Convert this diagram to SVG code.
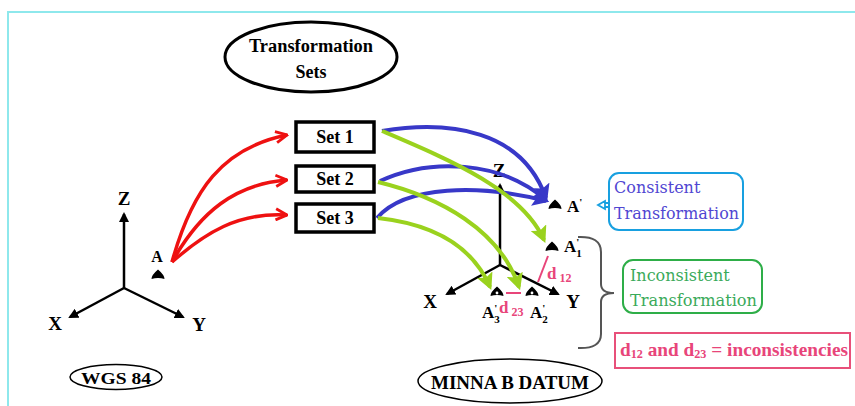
<svg xmlns="http://www.w3.org/2000/svg" width="855" height="406" viewBox="0 0 855 406">
<defs>
<style>
.t{font-family:"Times New Roman","Liberation Serif","DejaVu Serif",serif;font-weight:bold;fill:#000}
.s{font-family:"DejaVu Serif","Liberation Serif",serif}
.c{text-anchor:middle}
.ax{stroke:#000;stroke-width:2.5;fill:none}
.red{stroke:#ee1111;stroke-width:3.5;fill:none;marker-end:url(#mr)}
.blue{stroke:#3838c8;stroke-width:4;fill:none;marker-end:url(#mb)}
.green{stroke:#9ad21e;stroke-width:4;fill:none;marker-end:url(#mg)}
.pk{fill:#e8457a}
</style>
<marker id="ma" viewBox="0 0 10 10" refX="8" refY="5" markerWidth="4" markerHeight="4" orient="auto" markerUnits="strokeWidth"><path d="M0,0 L10,5 L0,10 Z" fill="#000"/></marker>
<marker id="mr" viewBox="0 0 10 10" refX="9" refY="5" markerWidth="4" markerHeight="4" orient="auto" markerUnits="strokeWidth"><path d="M1,1 L9,5 L1,9" fill="none" stroke="#ee1111" stroke-width="2"/></marker>
<marker id="mb" viewBox="0 0 10 10" refX="8" refY="5" markerWidth="4.2" markerHeight="4.2" orient="auto" markerUnits="strokeWidth"><path d="M0,0 L10,5 L0,10 L2,5 Z" fill="#3838c8"/></marker>
<marker id="mg" viewBox="0 0 10 10" refX="8" refY="5" markerWidth="4.2" markerHeight="4.2" orient="auto" markerUnits="strokeWidth"><path d="M0,0 L10,5 L0,10 L2,5 Z" fill="#9ad21e"/></marker>
<symbol id="tri" viewBox="-7 -6 14 11" overflow="visible"><path d="M-6.5,4 Q-6.5,0 0,-5.5 Q6.5,0 6.5,4 Q0,2 -6.5,4 Z" fill="#000"/></symbol>
</defs>
<rect width="855" height="406" fill="#fff"/>
<path d="M8,406 V12 H855" fill="none" stroke="#8ee8ec" stroke-width="2"/>

<g id="transformation-sets">
<ellipse cx="311" cy="57" rx="86" ry="35" fill="#fff" stroke="#000" stroke-width="3"/>
<text class="t c" x="311" y="52" font-size="18" textLength="124" lengthAdjust="spacingAndGlyphs">Transformation</text>
<text class="t c" x="311" y="78" font-size="18">Sets</text>
</g>

<g id="wgs84-frame">
<line class="ax" x1="124" y1="288" x2="124" y2="214" marker-end="url(#ma)"/>
<line class="ax" x1="124" y1="288" x2="70" y2="317" marker-end="url(#ma)"/>
<line class="ax" x1="124" y1="288" x2="183" y2="317" marker-end="url(#ma)"/>
<text class="t c" x="124" y="205" font-size="19">Z</text>
<text class="t c" x="55" y="330" font-size="19">X</text>
<text class="t c" x="199" y="331" font-size="19">Y</text>
</g>

<g id="point-a">
<text class="t c" x="157" y="262" font-size="16">A</text>
<use href="#tri" x="151" y="269" width="14" height="11"/>
</g>

<g id="wgs84">
<ellipse cx="116" cy="377" rx="46" ry="12.5" fill="#fff" stroke="#000" stroke-width="1.5"/>
<text class="t c" x="116" y="384" font-size="17" textLength="70" lengthAdjust="spacingAndGlyphs">WGS 84</text>
</g>

<g id="set1">
<rect x="296" y="122" width="78" height="30" fill="#fff" stroke="#000" stroke-width="3.5"/>
<text class="t c" x="335" y="143" font-size="18">Set 1</text>
</g>
<g id="set2">
<rect x="296" y="166" width="78" height="26" fill="#fff" stroke="#000" stroke-width="3.5"/>
<text class="t c" x="335" y="185" font-size="18">Set 2</text>
</g>
<g id="set3">
<rect x="296" y="204" width="78" height="28" fill="#fff" stroke="#000" stroke-width="3.5"/>
<text class="t c" x="335" y="224" font-size="18">Set 3</text>
</g>

<g id="minna-frame">
<line class="ax" x1="500" y1="265" x2="500" y2="185" stroke-width="2" marker-end="url(#ma)"/>
<line class="ax" x1="500" y1="265" x2="447" y2="294" stroke-width="2" marker-end="url(#ma)"/>
<line class="ax" x1="500" y1="265" x2="558" y2="294" stroke-width="2" marker-end="url(#ma)"/>
<text class="t c" x="499" y="177" font-size="19">Z</text>
<text class="t c" x="430" y="308" font-size="19">X</text>
<text class="t c" x="573" y="308" font-size="19">Y</text>
</g>

<g id="connectors">
<path class="red" d="M172,262 C192,190 222,148 287,135"/>
<path class="red" d="M172,262 C200,212 235,184 287,180"/>
<path class="red" d="M172,262 C205,233 238,212 287,215"/>
<path class="blue" d="M382,131 C450,120 522,130 546,198"/>
<path class="blue" d="M380,181 C430,158 500,160 546,200"/>
<path class="blue" d="M377,218 C405,185 480,184 546,201"/>
<path class="green" d="M382,131 C450,160 522,190 544,240"/>
<path class="green" d="M378,182 C440,197 500,230 519,287"/>
<path class="green" d="M378,218 C432,224 472,245 490,287"/>
</g>

<g id="a-prime">
<use href="#tri" x="548" y="199" width="14" height="11"/>
<text class="t" x="567" y="212" font-size="17">A<tspan font-size="11" dy="-6">'</tspan></text>
</g>
<g id="a-prime-1">
<use href="#tri" x="545" y="241" width="14" height="11"/>
<text class="t" x="564" y="252" font-size="17">A<tspan font-size="11" dy="-6">'</tspan><tspan font-size="11" dy="11" dx="-3">1</tspan></text>
</g>
<g id="a-prime-2">
<use href="#tri" x="525" y="286" width="14" height="11"/>
<circle cx="532" cy="293" r="1.4" fill="#fff"/>
<text class="t" x="530" y="318" font-size="17">A<tspan font-size="11" dy="-6">'</tspan><tspan font-size="11" dy="11" dx="-3">2</tspan></text>
</g>
<g id="a-prime-3">
<use href="#tri" x="490" y="286" width="14" height="11"/>
<circle cx="497" cy="293" r="1.4" fill="#fff"/>
<text class="t" x="482" y="318" font-size="17">A<tspan font-size="11" dy="-6">'</tspan><tspan font-size="11" dy="11" dx="-3">3</tspan></text>
</g>

<g id="d12">
<line x1="548" y1="256" x2="538" y2="282" stroke="#e8457a" stroke-width="2"/>
<text class="t pk" x="547" y="279" font-size="17">d<tspan font-size="12" dx="3" dy="3">12</tspan></text>
</g>
<g id="d23">
<line x1="506" y1="293" x2="521" y2="293" stroke="#e8457a" stroke-width="2"/>
<text class="t pk" x="499" y="313" font-size="17">d<tspan font-size="12" dx="3" dy="3">23</tspan></text>
</g>

<g id="consistent">
<path d="M605,201 L598,205 L605,209 Z M605,203 H609 V207 H605" fill="none" stroke="#18a0e0" stroke-width="1.8"/>
<rect x="609" y="173" width="134" height="57" rx="10" fill="#fff" stroke="#18a0e0" stroke-width="2"/>
<text class="s" x="614" y="193" font-size="16" fill="#5046d2">Consistent</text>
<text class="s" x="614" y="219" font-size="16" fill="#5046d2" textLength="125" lengthAdjust="spacingAndGlyphs">Transformation</text>
</g>

<g id="brace">
<path d="M578,237 Q601,236 601,252 V284 Q601,293 614,293 Q601,293 601,302 V334 Q601,349 578,348" fill="none" stroke="#555" stroke-width="2"/>
</g>

<g id="inconsistent">
<rect x="623" y="260" width="139" height="53" rx="10" fill="#fff" stroke="#2eae48" stroke-width="2"/>
<text class="s" x="630" y="281" font-size="16" fill="#3aaa5a">Inconsistent</text>
<text class="s" x="630" y="306" font-size="16" fill="#3aaa5a" textLength="127" lengthAdjust="spacingAndGlyphs">Transformation</text>
</g>

<g id="inconsistencies">
<rect x="615" y="333" width="235" height="35" fill="#fff" stroke="#e8507a" stroke-width="2"/>
<text class="t pk" x="620" y="356" font-size="19" textLength="228" lengthAdjust="spacingAndGlyphs">d<tspan font-size="12" dy="2">12</tspan><tspan dy="-2">  and d</tspan><tspan font-size="12" dy="2">23</tspan><tspan dy="-2"> = inconsistencies</tspan></text>
</g>

<g id="minna">
<ellipse cx="510" cy="381" rx="92" ry="22" fill="#fff" stroke="#000" stroke-width="1.5"/>
<text class="t c" x="510" y="389" font-size="18" textLength="158" lengthAdjust="spacingAndGlyphs">MINNA B DATUM</text>
</g>
</svg>
